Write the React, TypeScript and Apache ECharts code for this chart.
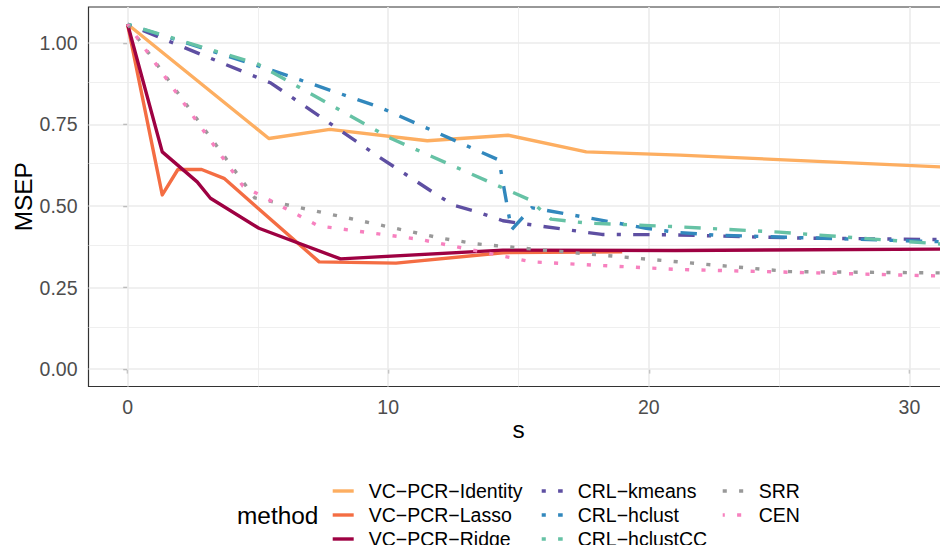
import React, { useEffect, useRef } from "react";
import * as echarts from "echarts";

const M = "\u2212";
const methods = [
  `VC${M}PCR${M}Identity`,
  `VC${M}PCR${M}Lasso`,
  `VC${M}PCR${M}Ridge`,
  `CRL${M}kmeans`,
  `CRL${M}hclust`,
  `CRL${M}hclustCC`,
  "SRR",
  "CEN",
];
const colors = ["#FDAE61", "#F46D43", "#9E0142", "#5E4FA2", "#3288BD", "#66C2A5", "#999999", "#F781BF"];
const kinds = ["solid", "solid", "solid", "dotdash", "dotdash", "dotdash", "dotted", "dotted"];

const identityS = [0, 5.42, 7.76, 11.5, 14.6, 17.6, 21.2, 31.5];
const identityMSEP = [1.057, 0.707, 0.735, 0.7, 0.717, 0.666, 0.656, 0.619];
const lassoS = [0, 1.33, 1.93, 2.84, 3.7, 7.35, 10.3, 14.4, 18.98];
const lassoMSEP = [1.057, 0.534, 0.612, 0.612, 0.585, 0.329, 0.325, 0.357, 0.36];
const ridgeS = [0, 1.33, 2.67, 3.18, 5.04, 8.17, 14.4, 21.0, 31.5];
const ridgeMSEP = [1.057, 0.666, 0.574, 0.524, 0.432, 0.338, 0.365, 0.364, 0.368];
const kmeansS = [0, 5.5, 9.64, 11.74, 12.5, 13.3, 14.4, 14.9, 18.2, 20.8, 25.8, 31.5];
const kmeansMSEP = [1.057, 0.877, 0.651, 0.541, 0.503, 0.485, 0.455, 0.449, 0.413, 0.412, 0.402, 0.397];
const hclustS = [0, 5.5, 9.64, 14.25, 14.73, 15.5, 19.9, 21.0, 22.5, 31.5];
const hclustMSEP = [1.057, 0.917, 0.804, 0.641, 0.427, 0.495, 0.432, 0.42, 0.411, 0.39];
const hclustCCS = [0, 5.0, 10.0, 15.4, 16.25, 17.6, 21.0, 25.0, 31.5];
const hclustCCMSEP = [1.057, 0.935, 0.711, 0.52, 0.46, 0.448, 0.437, 0.42, 0.382];
const srrS = [0, 4.88, 12.0, 13.4, 15.0, 25.4, 31.5];
const srrMSEP = [1.057, 0.525, 0.402, 0.384, 0.372, 0.299, 0.295];
const cenS = [0, 4.43, 7.33, 11.2, 15.5, 21.0, 31.5];
const cenMSEP = [1.057, 0.561, 0.439, 0.398, 0.329, 0.306, 0.285];

const seriesS = [identityS, lassoS, ridgeS, kmeansS, hclustS, hclustCCS, srrS, cenS];
const seriesMSEP = [identityMSEP, lassoMSEP, ridgeMSEP, kmeansMSEP, hclustMSEP, hclustCCMSEP, srrMSEP, cenMSEP];

const xTicks = [0, 10, 20, 30];
const xMinor = [5, 15, 25];
const yTicks = [0, 0.25, 0.5, 0.75, 1.0];
const yMinor = [0.125, 0.375, 0.625, 0.875];

const FONT = "'Liberation Sans', Arial, Helvetica, sans-serif";

function dashFor(kind: string): any {
  if (kind === "dotdash") return [4.1, 12.3, 16.4, 12.3];
  if (kind === "dotted") return [4.1, 12.3];
  return "solid";
}

export default function App() {
  const ref = useRef<HTMLDivElement>(null);
  useEffect(() => {
    if (!ref.current) return;
    const chart = echarts.init(ref.current, undefined, { renderer: "svg" });
    const grid = "#EBEBEB";
    const gridLines: any[] = [
      ...xMinor.map((v) => ({ xAxis: v, lineStyle: { color: grid, width: 0.8, type: "solid" } })),
      ...yMinor.map((v) => ({ yAxis: v, lineStyle: { color: grid, width: 0.8, type: "solid" } })),
      ...xTicks.map((v) => ({ xAxis: v, lineStyle: { color: grid, width: 1.6, type: "solid" } })),
      ...yTicks.map((v) => ({ yAxis: v, lineStyle: { color: grid, width: 1.6, type: "solid" } })),
    ];
    const series: any[] = [
      {
        type: "line",
        name: "__grid",
        data: [],
        silent: true,
        z: 1,
        markLine: {
          silent: true,
          z: 1,
          symbol: ["none", "none"],
          label: { show: false },
          emphasis: { disabled: true },
          animation: false,
          data: gridLines,
        },
      },
      ...methods.map((name, i) => ({
        type: "line",
        name,
        data: seriesS[i].map((s, j) => [s, seriesMSEP[i][j]]),
        symbol: "none",
        showSymbol: false,
        clip: true,
        z: 3 + i,
        lineStyle: {
          color: colors[i],
          width: 3.4,
          type: dashFor(kinds[i]),
          cap: "butt",
          join: "round",
          dashOffset: i === 7 ? 2 : 0,
        },
        itemStyle: { color: colors[i] },
        emphasis: { disabled: true },
      })),
    ];
    const legendBase = {
      orient: "vertical",
      top: 479,
      height: 120,
      padding: 0,
      itemWidth: 21,
      itemHeight: 4,
      itemGap: 0,
      selectedMode: false,
      itemStyle: { opacity: 0, borderWidth: 0 },
      lineStyle: { width: 3.4 },
      textStyle: {
        fontFamily: FONT,
        fontSize: 19.5,
        color: "#000",
        lineHeight: 24,
        padding: [0, 0, 0, 10],
      },
    };
    chart.setOption({
      animation: false,
      backgroundColor: "#fff",
      textStyle: { fontFamily: FONT },
      grid: {
        left: 88.5,
        top: 7,
        width: 860,
        height: 379.5,
        show: true,
        borderColor: "#333333",
        borderWidth: 1.2,
        backgroundColor: "#fff",
        containLabel: false,
        outerBoundsMode: "none",
      },
      xAxis: {
        type: "value",
        min: -1.5,
        max: 31.5,
        splitNumber: 3,
        name: "s",
        nameLocation: "middle",
        nameGap: 31,
        nameMoveOverlap: false,
        nameTextStyle: { fontFamily: FONT, fontSize: 24.4, color: "#000" },
        axisLine: { show: false },
        axisTick: { show: true, length: 4.4, customValues: xTicks, lineStyle: { color: "#333333", width: 1.2 } },
        axisLabel: {
          customValues: xTicks,
          margin: 10,
          fontFamily: FONT,
          fontSize: 19.5,
          color: "#4D4D4D",
          formatter: (v: number) => String(v),
        },
        splitLine: { show: false },
      },
      yAxis: {
        type: "value",
        min: -0.053,
        max: 1.11,
        name: "MSEP",
        nameLocation: "middle",
        nameGap: 53,
        nameRotate: 90,
        nameMoveOverlap: false,
        nameTextStyle: { fontFamily: FONT, fontSize: 24.4, color: "#000" },
        axisLine: { show: false },
        axisTick: { show: true, length: 4.4, customValues: yTicks, lineStyle: { color: "#333333", width: 1.2 } },
        axisLabel: {
          customValues: yTicks,
          margin: 11,
          fontFamily: FONT,
          fontSize: 19.5,
          color: "#4D4D4D",
          formatter: (v: number) => v.toFixed(2),
        },
        splitLine: { show: false },
      },
      legend: [
        { ...legendBase, left: 331, data: methods.slice(0, 3) },
        { ...legendBase, left: 540, data: methods.slice(3, 6) },
        { ...legendBase, left: 721, data: methods.slice(6, 8) },
      ],
      graphic: [
        {
          type: "text",
          x: 237,
          y: 515,
          style: {
            text: "method",
            fontFamily: FONT,
            fontSize: 24.4,
            fill: "#000",
            verticalAlign: "middle",
            align: "left",
          },
        },
      ],
      series,
    });
    return () => chart.dispose();
  }, []);
  return (
    <div
      ref={ref}
      style={{ position: "fixed", left: 0, top: 0, width: 940, height: 545 }}
    />
  );
}
